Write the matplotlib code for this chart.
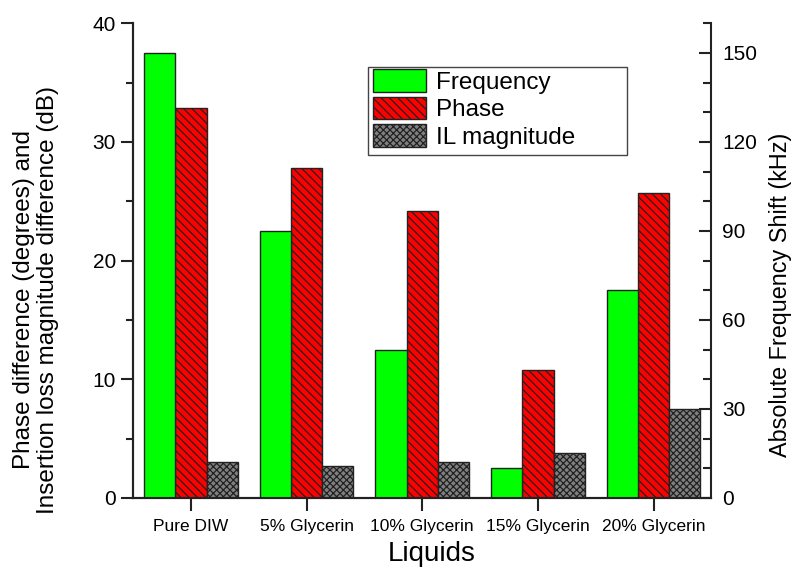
import numpy as np
import matplotlib
matplotlib.use("Agg")
import matplotlib.pyplot as plt
from matplotlib.ticker import MultipleLocator
from matplotlib.patches import Patch, Rectangle

plt.rcParams['font.family'] = ['Liberation Sans', 'DejaVu Sans']
plt.rcParams['hatch.linewidth'] = 0.9

liquids = ['Pure DIW', '5% Glycerin', '10% Glycerin', '15% Glycerin', '20% Glycerin']
frequency_khz = [150, 90, 50, 10, 70]
phase_deg = [32.9, 27.8, 24.2, 10.8, 25.7]
il_db = [3.0, 2.7, 3.0, 3.8, 7.5]

def main():
    W, H = 793, 569
    fig = plt.figure(figsize=(W / 100, H / 100), dpi=100)
    ax = fig.add_axes([0.168, 0.125, 0.729, 0.834])
    ax2 = ax.twinx()

    x = np.arange(len(liquids))
    w = 0.27
    edge = '#222222'

    # frequency bars belong to the right (kHz) axis
    ax2.bar(x - w, frequency_khz, w, color='#00ff00', edgecolor=edge, linewidth=1.0)
    ax.bar(x, phase_deg, w, color='#ff0000', edgecolor=edge, linewidth=1.0, hatch='\\\\\\\\')
    ax.bar(x + w, il_db, w, color='#808080', edgecolor=edge, linewidth=1.0, hatch='xxxxx')

    ax.set_xlim(-0.5, 4.5)
    ax.set_ylim(0, 40)
    ax2.set_ylim(0, 160)

    ax.set_xticks(x)
    ax.set_xticklabels(liquids, fontsize=12.5)
    ax.yaxis.set_major_locator(MultipleLocator(10))
    ax.yaxis.set_minor_locator(MultipleLocator(5))
    ax2.yaxis.set_major_locator(MultipleLocator(30))
    ax2.yaxis.set_minor_locator(MultipleLocator(10))

    for a in (ax, ax2):
        a.spines['top'].set_visible(False)
        for s in a.spines.values():
            s.set_linewidth(1.5)
            s.set_color('#222222')
    ax.spines['right'].set_visible(False)

    ax.tick_params(axis='y', which='major', direction='out', length=9, width=1.5,
                   labelsize=15, color='#222222')
    ax.tick_params(axis='y', which='minor', direction='out', length=5, width=1.5,
                   color='#222222')
    ax.tick_params(axis='x', which='major', direction='out', length=9, width=1.5,
                   color='#222222', pad=6)
    ax2.tick_params(axis='y', which='major', direction='in', length=9, width=1.5,
                    labelsize=15, color='#222222', pad=8)
    ax2.tick_params(axis='y', which='minor', direction='in', length=6, width=1.5,
                    color='#222222')

    ax.set_xlabel('Liquids', fontsize=20, va='center')
    ax.xaxis.set_label_coords(0.516, -0.118)
    ax.set_ylabel('Phase difference (degrees) and\nInsertion loss magnitude difference (dB)',
                  fontsize=17.5, linespacing=1.1, va='center')
    ax.yaxis.set_label_coords(-0.168, 0.418)
    ax2.set_ylabel('Absolute Frequency Shift (kHz)', fontsize=16.8, va='center')
    ax2.yaxis.set_label_coords(1.119, 0.428)

    handles = [
        Patch(facecolor='#00ff00', edgecolor=edge, label='Frequency'),
        Patch(facecolor='#ff0000', edgecolor=edge, hatch='\\\\\\\\', label='Phase'),
        Patch(facecolor='#808080', edgecolor=edge, hatch='xxxxx', label='IL magnitude'),
    ]
    ax2.legend(handles=handles, loc='upper left', bbox_to_anchor=(373 / W, 1 - 69 / H),
               bbox_transform=fig.transFigure, fontsize=17.5, frameon=False,
               handlelength=2.2, handleheight=1.07, handletextpad=0.4,
               labelspacing=0.12, borderpad=0.0, borderaxespad=0)
    # legend frame (wider than its content, as in the original)
    fig.patches.append(Rectangle((368 / W, 1 - 155 / H), 259 / W, 88 / H,
                                 transform=fig.transFigure, fill=False,
                                 edgecolor='#444444', linewidth=1.0, zorder=5))

    fig.savefig('out.png', dpi=100)


if __name__ == '__main__':
    main()
